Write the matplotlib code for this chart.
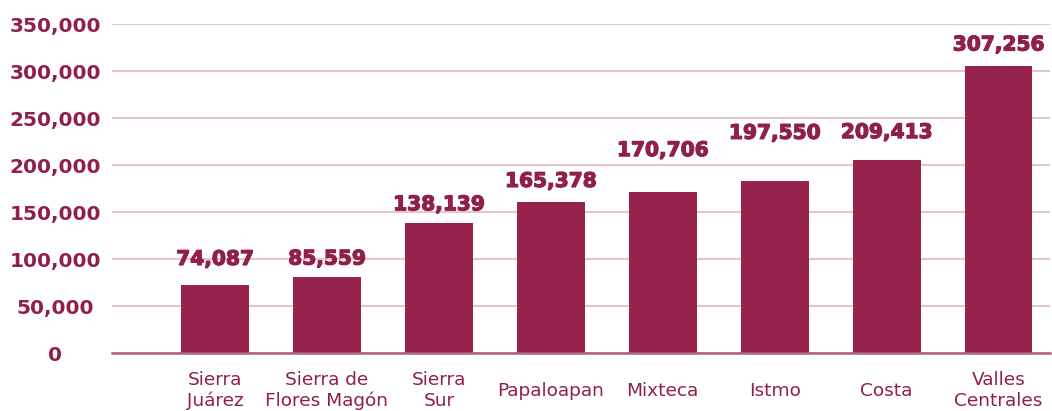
import matplotlib
matplotlib.use("Agg")
import matplotlib.pyplot as plt
import matplotlib.patheffects as pe

# Regiones y valores (texto de las etiquetas)
regiones = ["Sierra\nJuárez", "Sierra de\nFlores Magón", "Sierra\nSur", "Papaloapan",
            "Mixteca", "Istmo", "Costa", "Valles\nCentrales"]
valores = [74087, 85559, 138139, 165378, 170706, 197550, 209413, 307256]
# altura de las barras tal como se ven en la imagen
alturas = [72300, 80900, 138000, 160600, 172000, 183000, 206000, 306000]
y_ticks = [0, 50000, 100000, 150000, 200000, 250000, 300000, 350000]

# separacion de cada etiqueta sobre su barra (puntos)
desfase = [18.5, 13, 13.5, 15, 29.5, 34.5, 19.5, 15]

GUINDA = "#98224e"
TEXTO = "#8f1f4c"
GRID = "#e5c6cd"

plt.rcParams['font.family'] = ['DejaVu Sans']

fig = plt.figure(figsize=(10.52, 4.11), dpi=100)
ax = fig.add_axes([112 / 1052, 58 / 411, 938 / 1052, (353 - 24.5) / 411])

x = range(len(regiones))
ax.bar(x, alturas, width=0.607, color=GUINDA, zorder=3)

for xi, h, v, d in zip(x, alturas, valores, desfase):
    ax.annotate(f"{v:,}", (xi, h), xytext=(0, d), textcoords="offset points",
                ha="center", va="center", fontsize=14.5, fontweight="bold", color=TEXTO,
                path_effects=[pe.withStroke(linewidth=0.9, foreground=TEXTO)])

ax.set_ylim(0, 350000)
ax.set_xlim(-0.92, 7.46)
ax.set_yticks(y_ticks)
ax.set_yticklabels([f"{t:,}" for t in y_ticks], fontsize=14.5, fontweight="bold", color=TEXTO, ha="center")
ax.set_xticks(list(x))
ax.set_xticklabels(regiones, fontsize=13.3, color=TEXTO, va="center", linespacing=1.2)
ax.tick_params(axis="y", length=0, pad=41)
ax.tick_params(axis="x", length=0, pad=27)

ax.grid(axis="y", color=GRID, linewidth=1.5, zorder=0)
for s in ["top", "right", "left"]:
    ax.spines[s].set_visible(False)
ax.spines["bottom"].set_color("#b06080")
ax.spines["bottom"].set_linewidth(1.8)
ax.spines["bottom"].set_zorder(4)

fig.savefig("out.png", dpi=100)
